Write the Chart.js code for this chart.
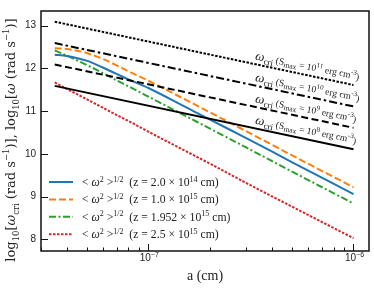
<!DOCTYPE html>
<html>
<head>
<meta charset="utf-8">
<script src="https://cdn.jsdelivr.net/npm/chart.js@4.4.0/dist/chart.umd.min.js"></script>
<style>
    html, body { margin: 0; padding: 0; background: #fff; }
</style>
</head>
<body>
<canvas id="omegaChart" width="374" height="288"></canvas>
<script>
// grain size a (cm)
const grainSize = [3.5e-8, 4e-8, 5e-8, 6e-8, 7e-8, 8e-8, 1e-7, 1.5e-7, 2e-7, 3e-7, 5e-7, 1e-6];
// log10 <w^2>^1/2 for each distance z
const rmsZ1 = [12.32, 12.29, 12.18, 12.02, 11.87, 11.74, 11.54, 11.11, 10.80, 10.37, 9.81, 9.06];
const rmsZ2 = [12.47, 12.45, 12.36, 12.22, 12.07, 11.93, 11.71, 11.28, 10.97, 10.53, 9.97, 9.22];
const rmsZ3 = [12.42, 12.30, 12.08, 11.89, 11.72, 11.58, 11.34, 10.90, 10.59, 10.15, 9.59, 8.84];
const rmsZ4 = [11.67, 11.52, 11.28, 11.08, 10.91, 10.77, 10.52, 10.08, 9.77, 9.32, 8.77, 8.03];
const zMantissa = ['2.0', '1.0', '1.952', '2.5'];
const zExponent = ['14', '15', '15', '15'];

// log10 w_cri for each S_max (straight lines)
const criSize = [3.5e-8, 1e-6];
const criS11 = [13.09, 11.61];
const criS10 = [12.59, 11.11];
const criS9 = [12.09, 10.61];
const criS8 = [11.59, 10.11];
const sExponent = ['11', '10', '9', '8'];

const yTickValues = [8, 9, 10, 11, 12, 13];
const xTickLabels = [1e-7, 1e-6];

const SERIF = '"Liberation Serif", "DejaVu Serif", serif';
const SERIF_WIDE = '"DejaVu Serif", serif';
const SANS = '"Liberation Sans", Arial, sans-serif';

const pts = (xs, ys) => xs.map((x, i) => ({ x: x, y: ys[i] }));

function T(t, sz, dy, fam) { return { t: t, sz: sz, dy: dy || 0, fam: fam }; }
function I(t, sz, dy, fam) { return { t: t, sz: sz, dy: dy || 0, it: true, fam: fam }; }

function segWidth(ctx, s) {
    ctx.font = (s.it ? 'italic ' : '') + s.sz + 'px ' + (s.fam || SERIF);
    return ctx.measureText(s.t).width;
}

// draws a row of text pieces with sub/superscripts
function drawRich(ctx, segs, x, y, rot, align) {
    ctx.save();
    ctx.translate(x, y);
    ctx.rotate(rot);
    let w = 0;
    segs.forEach(s => w += segWidth(ctx, s));
    let cx = align === 'center' ? -w / 2 : 0;
    ctx.textAlign = 'left';
    ctx.textBaseline = 'alphabetic';
    ctx.fillStyle = '#222';
    segs.forEach(s => {
        const sw = segWidth(ctx, s);
        ctx.fillText(s.t, cx, s.dy);
        cx += sw;
    });
    ctx.restore();
    return w;
}

const rmsStyles = [
    { color: '#1f77b4', dash: [] },
    { color: '#ff7f0e', dash: [7, 3] },
    { color: '#2ca02c', dash: [7, 2.5, 2, 2.5] },
    { color: '#d62728', dash: [2.5, 1.5] }
];
const criDash = [[2.5, 1.5], [8, 3, 2.5, 3], [7, 3.5], []];

const rmsData = [rmsZ1, rmsZ2, rmsZ3, rmsZ4];
const criData = [criS11, criS10, criS9, criS8];

const datasets = [];
criData.forEach((d, i) => {
    datasets.push({
        data: pts(criSize, d),
        borderColor: '#000',
        borderWidth: 2,
        borderDash: criDash[i],
        pointRadius: 0,
        fill: false,
        tension: 0
    });
});
rmsData.forEach((d, i) => {
    datasets.push({
        data: pts(grainSize, d),
        borderColor: rmsStyles[i].color,
        borderWidth: 2,
        borderDash: rmsStyles[i].dash,
        pointRadius: 0,
        fill: false,
        cubicInterpolationMode: 'monotone'
    });
});

const decorations = {
    id: 'decorations',
    afterDraw(chart) {
        const ctx = chart.ctx;
        const ca = chart.chartArea;
        const xs = chart.scales.x;
        const ys = chart.scales.y;

        // frame
        ctx.save();
        ctx.strokeStyle = '#111';
        ctx.lineWidth = 1.5;
        ctx.strokeRect(ca.left, ca.top, ca.right - ca.left, ca.bottom - ca.top);

        // inward tick marks
        ctx.lineWidth = 1;
        ctx.beginPath();
        yTickValues.forEach(v => {
            const py = Math.round(ys.getPixelForValue(v)) + 0.5;
            ctx.moveTo(ca.left, py);
            ctx.lineTo(ca.left + 7, py);
        });
        xs.ticks.forEach(t => {
            const v = t.value;
            const e = Math.floor(Math.log10(v) + 1e-9);
            const m = v / Math.pow(10, e);
            if (Math.abs(m - Math.round(m)) > 1e-6) return;
            const px = Math.round(xs.getPixelForValue(v)) + 0.5;
            const len = Math.round(m) === 1 ? 7 : 3.5;
            ctx.moveTo(px, ca.bottom);
            ctx.lineTo(px, ca.bottom - len);
        });
        ctx.stroke();
        ctx.restore();

        // x tick labels 10^n
        xTickLabels.forEach(v => {
            const n = Math.round(Math.log10(v));
            drawRich(ctx, [T('10', 10, 0, SANS), T('−' + Math.abs(n), 7, -4.5, SANS)],
                xs.getPixelForValue(v) + 1, 261, 0, 'center');
        });

        // axis titles
        drawRich(ctx, [T('a (cm)', 14)], (ca.left + ca.right) / 2, 280, 0, 'center');
        drawRich(ctx, [
            T('log', 13, 0, SERIF_WIDE), T('10', 8.5, 3.5, SERIF_WIDE), T('[', 13, 0, SERIF_WIDE),
            I('ω', 13, 0, SERIF_WIDE), T('cri', 8.5, 3.5, SERIF_WIDE),
            T(' (rad s', 13, 0, SERIF_WIDE), T('−1', 8.5, -6, SERIF_WIDE), T(')], log', 13, 0, SERIF_WIDE),
            T('10', 8.5, 3.5, SERIF_WIDE), T('[', 13, 0, SERIF_WIDE), I('ω', 13, 0, SERIF_WIDE),
            T(' (rad s', 13, 0, SERIF_WIDE), T('−1', 8.5, -6, SERIF_WIDE), T(')]', 13, 0, SERIF_WIDE)
        ], 15, 140, -Math.PI / 2, 'center');

        // w_cri labels along the black lines
        const xa = xs.getPixelForValue(criSize[0]);
        const xb = xs.getPixelForValue(criSize[1]);
        criData.forEach((d, i) => {
            const ya = ys.getPixelForValue(d[0]);
            const yb = ys.getPixelForValue(d[1]);
            const ang = Math.atan2(yb - ya, xb - xa) - 0.02;
            const lx = xs.getPixelForValue(3.3e-7);
            const ly = ya + (yb - ya) * (lx - xa) / (xb - xa) - 4.5;
            drawRich(ctx, [
                I('ω', 13), T('cri', 9, 3), T(' (S', 9.5, 0), T('max', 7.5, 2),
                T(' = 10', 9.5, 0), T(sExponent[i], 7, -4), T(' erg cm', 9.5, 0),
                T('-3', 7, -4), T(')', 9.5, 1)
            ], lx, ly, ang, 'left');
        });

        // legend
        ctx.save();
        rmsStyles.forEach((st, i) => {
            const cy = ca.bottom - 69 + i * 17.4;
            ctx.strokeStyle = st.color;
            ctx.lineWidth = 2;
            ctx.setLineDash(st.dash);
            ctx.beginPath();
            ctx.moveTo(ca.left + 8, cy);
            ctx.lineTo(ca.left + 32, cy);
            ctx.stroke();
            ctx.setLineDash([]);
            drawRich(ctx, [
                T('< ', 11.7), I('ω', 11.7), T('2', 8, -4.5), T(' >', 11.7), T('1/2', 8, -4.5),
                T('  (z = ' + zMantissa[i] + ' × 10', 11.7), T(zExponent[i], 8, -4.5), T(' cm)', 11.7)
            ], ca.left + 41, cy + 4, 0, 'left');
        });
        ctx.restore();
    }
};

new Chart(document.getElementById('omegaChart'), {
    type: 'line',
    data: { datasets: datasets },
    options: {
        responsive: false,
        animation: false,
        devicePixelRatio: 1,
        layout: { padding: { top: 5, right: 5, left: 0, bottom: 0 } },
        plugins: { legend: { display: false }, tooltip: { enabled: false } },
        scales: {
            x: {
                type: 'logarithmic',
                min: 3.05e-8,
                max: 1.19e-6,
                grid: { display: false, drawTicks: false },
                border: { display: false },
                ticks: { display: false },
                afterFit: function (s) { s.height = 37; }
            },
            y: {
                type: 'linear',
                min: 7.73,
                max: 13.34,
                grid: { display: false, drawTicks: false },
                border: { display: false },
                ticks: {
                    stepSize: 1,
                    includeBounds: false,
                    padding: 5,
                    color: '#222',
                    font: { family: SANS, size: 10 },
                    callback: function (value) {
                        return Number.isInteger(value) ? String(value) : '';
                    }
                },
                afterFit: function (s) { s.width = 41; }
            }
        }
    },
    plugins: [decorations]
});
</script>
</body>
</html>
